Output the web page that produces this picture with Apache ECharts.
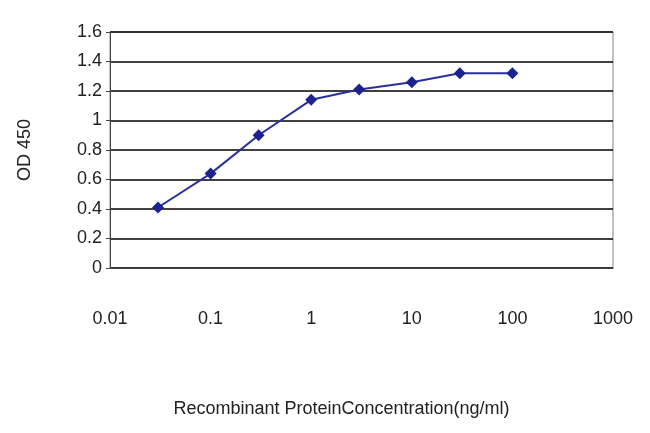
<!DOCTYPE html>
<html><head><meta charset="utf-8">
<script src="https://cdn.jsdelivr.net/npm/echarts@6/dist/echarts.min.js"></script>
<style>body{margin:0}#c{width:650px;height:433px}</style></head>
<body><div id="c"></div>
<script>
var conc = [0.03, 0.1, 0.3, 1, 3, 10, 30, 100];
var od = [0.41, 0.64, 0.9, 1.14, 1.21, 1.26, 1.32, 1.32];
var chart = echarts.init(document.getElementById('c'));
var font = 'Liberation Sans';
chart.setOption({
  animation: false,
  backgroundColor: '#fff',
  grid: { left: 110, right: 37, top: 32, bottom: 165, show: true, borderColor: '#888', borderWidth: 1 },
  xAxis: {
    type: 'log', logBase: 10, min: 0.01, max: 1000,
    name: 'Recombinant ProteinConcentration(ng/ml)', nameLocation: 'middle', nameGap: 132,
    nameTextStyle: { fontFamily: font, fontSize: 18, color: '#222', padding: [0, 40, 0, 0] },
    axisLine: { lineStyle: { color: '#444' } },
    axisTick: { show: false },
    splitLine: { show: false },
    axisLabel: { margin: 42, fontFamily: font, fontSize: 18, color: '#222',
      formatter: function (v) { return String(v); } }
  },
  yAxis: {
    type: 'value', min: 0, max: 1.6, interval: 0.2,
    name: 'OD 450', nameLocation: 'middle', nameGap: 76,
    nameTextStyle: { fontFamily: font, fontSize: 18, color: '#222' },
    axisLine: { show: true, lineStyle: { color: '#444' } },
    axisTick: { show: true, inside: false, length: 4, lineStyle: { color: '#444' } },
    splitLine: { lineStyle: { color: '#000', width: 1.5 } },
    axisLabel: { fontFamily: font, fontSize: 18, color: '#222', margin: 8 }
  },
  series: [{
    type: 'line',
    data: conc.map(function (c, i) { return [c, od[i]]; }),
    symbol: 'diamond', symbolSize: 12,
    lineStyle: { color: '#2b2f9e', width: 2 },
    itemStyle: { color: '#1c2290' }
  }]
});
</script></body></html>
